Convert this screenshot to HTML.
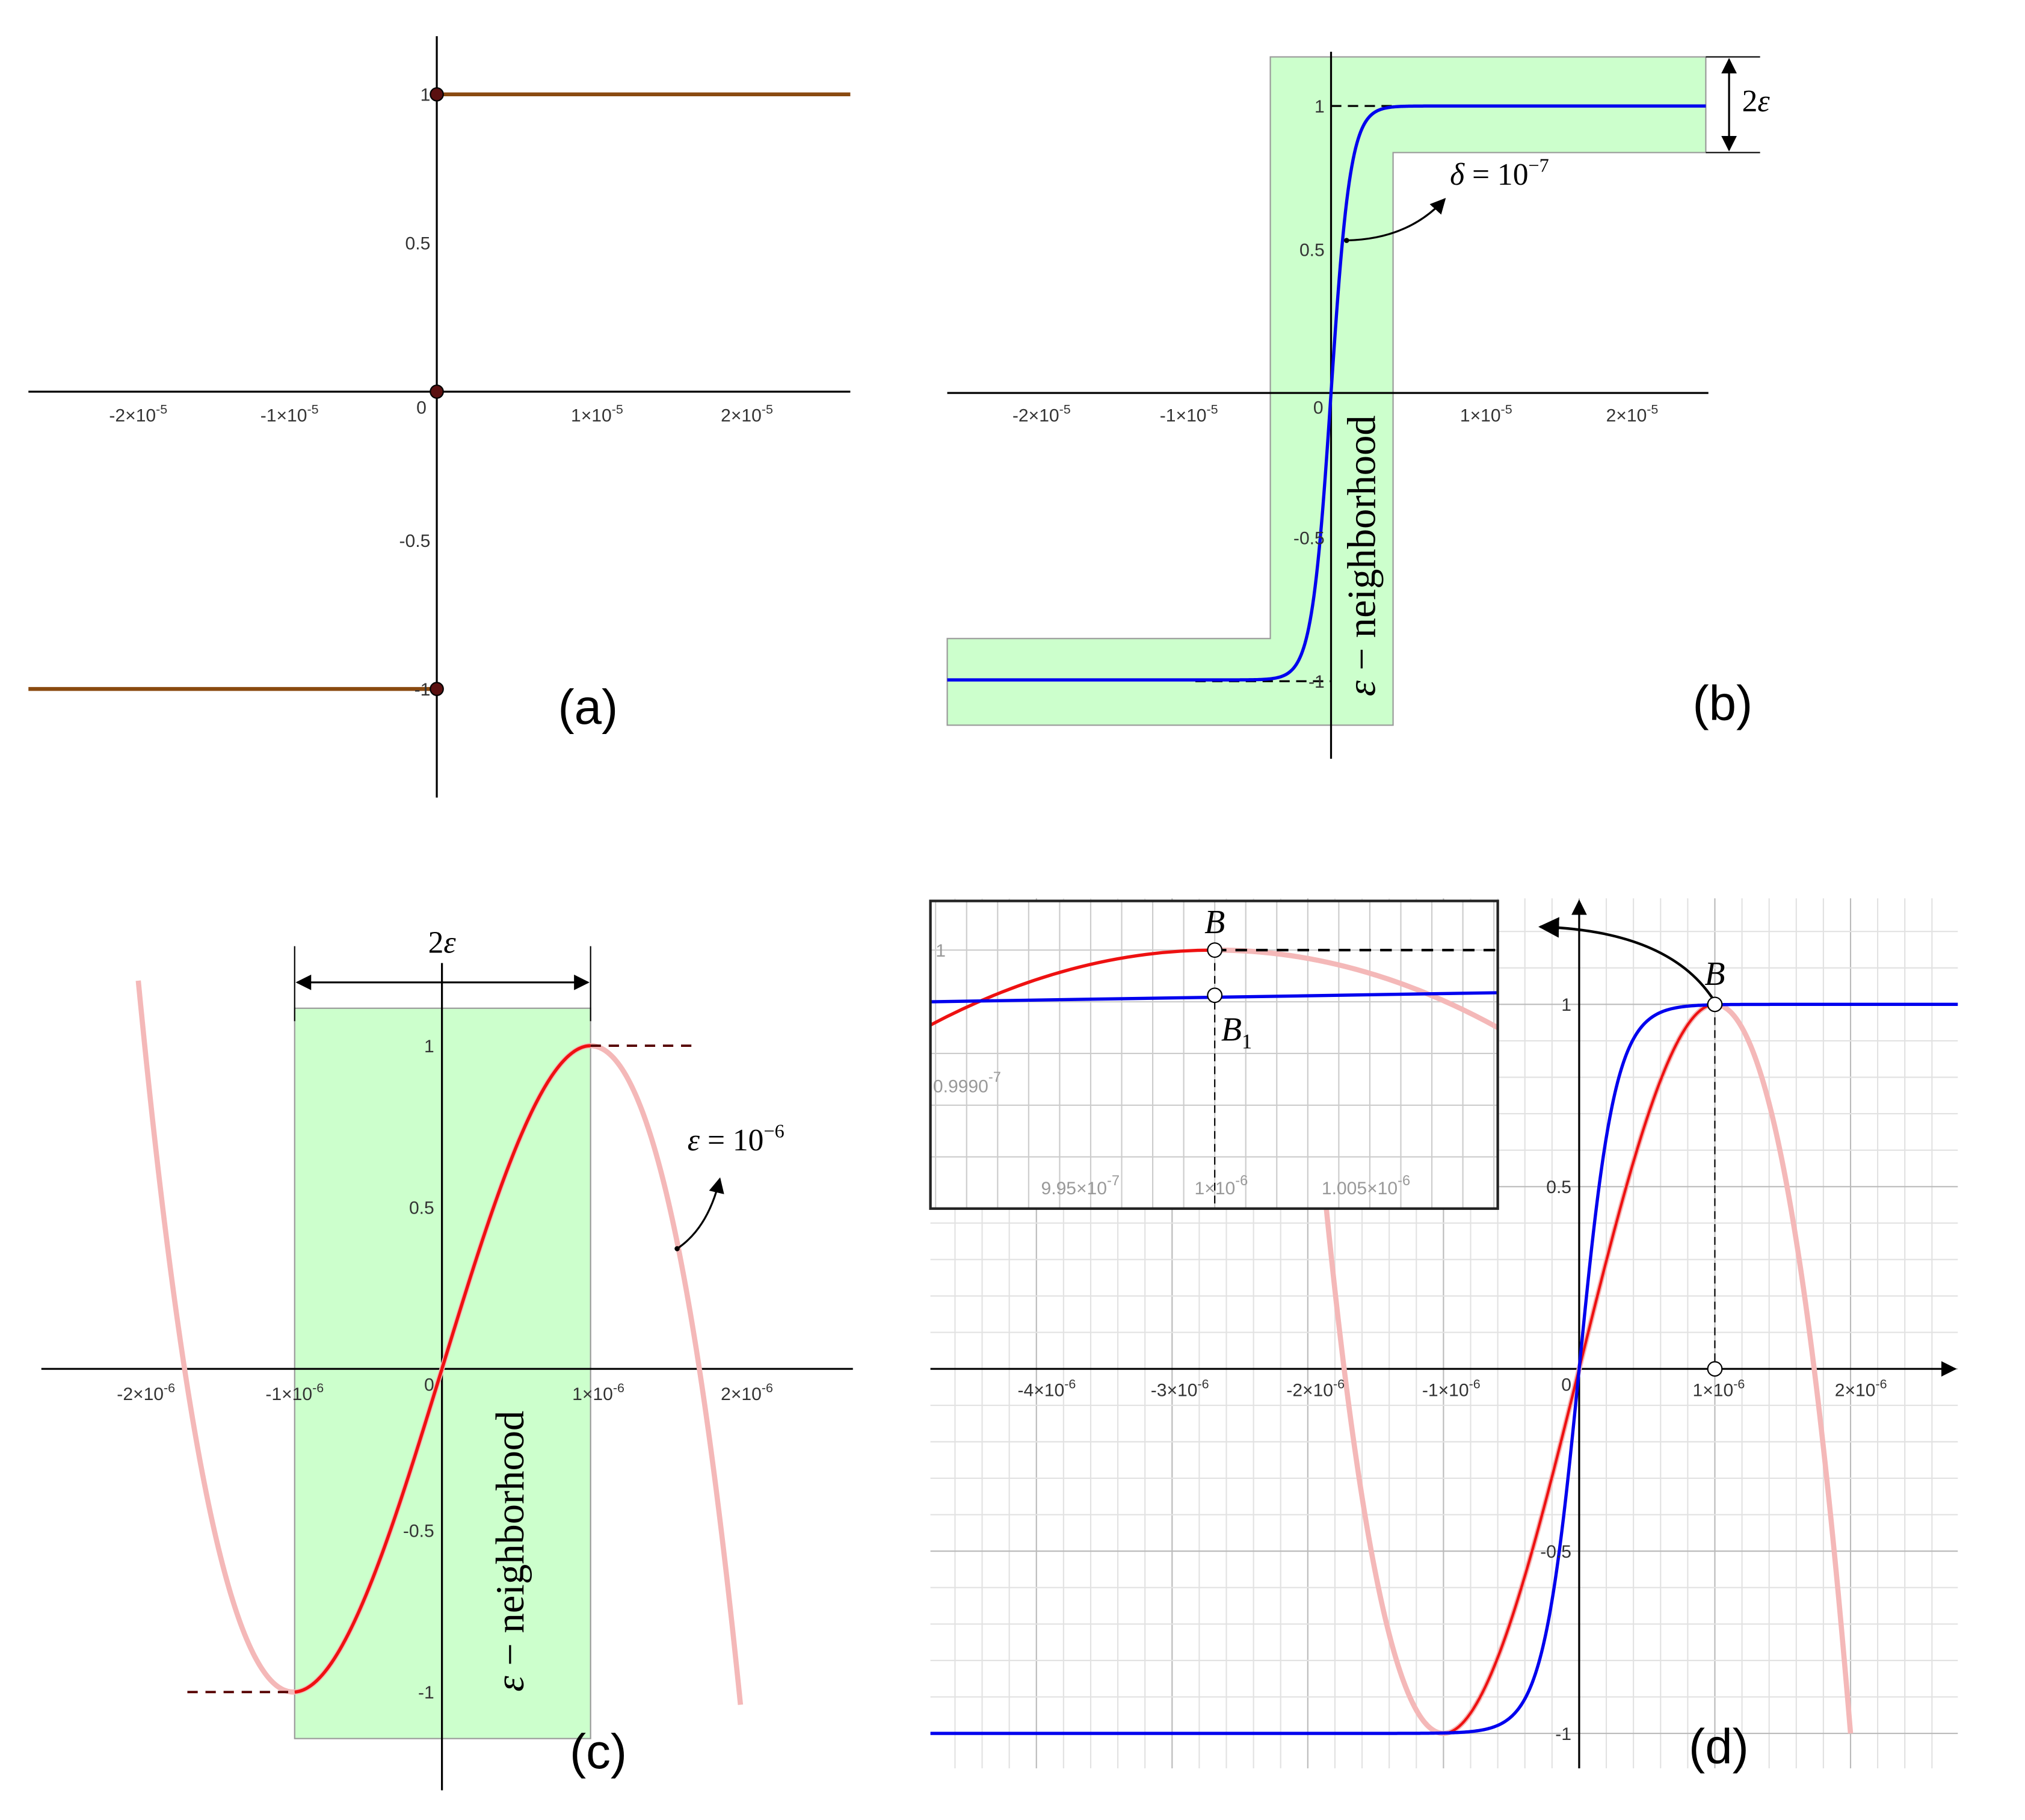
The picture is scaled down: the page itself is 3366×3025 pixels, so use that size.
<!DOCTYPE html>
<html><head><meta charset="utf-8"><style>
html,body{margin:0;padding:0;background:#fff;}
svg{display:block;}
text{font-family:"Liberation Sans",sans-serif;}
.t{font-size:14px;fill:#333;}
.g{font-size:14px;fill:#999;}
text.serif,.serif{font-family:"Liberation Serif",serif;}
.s{font-family:"Liberation Serif",serif;font-style:italic;}
</style></head><body>
<svg id="s" width="3366" height="3025" viewBox="0 0 1567 1408" preserveAspectRatio="none" xmlns="http://www.w3.org/2000/svg">
<defs>
<marker id="ah" viewBox="0 0 10 10" refX="9" refY="5" markerWidth="8" markerHeight="8" orient="auto-start-reverse"><path d="M0,0 L10,5 L0,10 z" fill="#000"/></marker>
</defs>
<rect width="1567" height="1408" fill="#fff"/>

<!-- Panel A -->
<g>
<line x1="338" y1="28" x2="338" y2="617" stroke="#000" stroke-width="1.5"/>
<line x1="22" y1="303" x2="658" y2="303" stroke="#000" stroke-width="1.5"/>
<line x1="338" y1="73" x2="658" y2="73" stroke="#8a4a10" stroke-width="3"/>
<line x1="22" y1="533" x2="338" y2="533" stroke="#8a4a10" stroke-width="3"/>
<circle cx="338" cy="73" r="5" fill="#5a1010" stroke="#000"/>
<circle cx="338" cy="303" r="5" fill="#5a1010" stroke="#000"/>
<circle cx="338" cy="533" r="5" fill="#5a1010" stroke="#000"/>
<text class="t" x="333" y="78" text-anchor="end">1</text>
<text class="t" x="333" y="193" text-anchor="end">0.5</text>
<text class="t" x="333" y="423" text-anchor="end">-0.5</text>
<text class="t" x="333" y="538" text-anchor="end">-1</text>
<text class="t" x="330" y="320" text-anchor="end">0</text>
<text class="t" x="107" y="326" text-anchor="middle">-2×10<tspan dy="-6" font-size="10">-5</tspan></text>
<text class="t" x="224" y="326" text-anchor="middle">-1×10<tspan dy="-6" font-size="10">-5</tspan></text>
<text class="t" x="462" y="326" text-anchor="middle">1×10<tspan dy="-6" font-size="10">-5</tspan></text>
<text class="t" x="578" y="326" text-anchor="middle">2×10<tspan dy="-6" font-size="10">-5</tspan></text>
<text x="455" y="560" font-size="38" text-anchor="middle">(a)</text>
</g>

<!-- Panel B -->
<g>
<path d="M983,44 L1320,44 L1320,118 L1078,118 L1078,561 L733,561 L733,494 L983,494 Z" fill="#ccffcc" stroke="#999" stroke-width="1"/>
<line x1="1030" y1="40" x2="1030" y2="587" stroke="#000" stroke-width="1.5"/>
<line x1="733" y1="304" x2="1322" y2="304" stroke="#000" stroke-width="1.5"/>
<line x1="1030" y1="82" x2="1105" y2="82" stroke="#000" stroke-width="1.5" stroke-dasharray="8,5"/>
<line x1="925" y1="527" x2="1030" y2="527" stroke="#000" stroke-width="1.5" stroke-dasharray="8,5"/>
<path id="pb" fill="none" stroke="#0000ee" stroke-width="2.5"/>
<text class="t" x="1025" y="87" text-anchor="end">1</text>
<text class="t" x="1025" y="198" text-anchor="end">0.5</text>
<text class="t" x="1025" y="421" text-anchor="end">-0.5</text>
<text class="t" x="1025" y="532" text-anchor="end">-1</text>
<text class="t" x="1024" y="320" text-anchor="end">0</text>
<text class="t" x="806" y="326" text-anchor="middle">-2×10<tspan dy="-6" font-size="10">-5</tspan></text>
<text class="t" x="920" y="326" text-anchor="middle">-1×10<tspan dy="-6" font-size="10">-5</tspan></text>
<text class="t" x="1150" y="326" text-anchor="middle">1×10<tspan dy="-6" font-size="10">-5</tspan></text>
<text class="t" x="1263" y="326" text-anchor="middle">2×10<tspan dy="-6" font-size="10">-5</tspan></text>
<line x1="1320" y1="44" x2="1362" y2="44" stroke="#000"/>
<line x1="1320" y1="118" x2="1362" y2="118" stroke="#000"/>
<line x1="1338" y1="46" x2="1338" y2="116" stroke="#000" stroke-width="1.5" marker-start="url(#ah)" marker-end="url(#ah)"/>
<text class="serif" x="1348" y="86" font-size="24">2<tspan class="s">ε</tspan></text>
<text class="serif" x="1122" y="143" font-size="24"><tspan class="s">δ</tspan> = 10<tspan dy="-10" font-size="15">−7</tspan></text>
<path d="M1042,186 Q1090,185 1118,154" fill="none" stroke="#000" stroke-width="1.5" marker-end="url(#ah)"/>
<circle cx="1042" cy="186" r="2" fill="#000"/>
<text class="serif" transform="translate(1064,430) rotate(-90)" font-size="31" text-anchor="middle"><tspan class="s">ε</tspan> − neighborhood</text>
<text x="1333" y="557" font-size="38" text-anchor="middle">(b)</text>
</g>

<!-- Panel C -->
<g>
<rect x="228" y="780" width="229" height="565" fill="#ccffcc" stroke="#999"/>
<line x1="342" y1="745" x2="342" y2="1385" stroke="#000" stroke-width="1.5"/>
<line x1="32" y1="1059" x2="660" y2="1059" stroke="#000" stroke-width="1.5"/>
<path id="pcp" fill="none" stroke="#f4b8b8" stroke-width="4"/>
<path id="pcr" fill="none" stroke="#ee1111" stroke-width="2.5"/>
<line x1="457" y1="809" x2="540" y2="809" stroke="#500" stroke-width="1.8" stroke-dasharray="8,6"/>
<line x1="145" y1="1309" x2="228" y2="1309" stroke="#500" stroke-width="1.8" stroke-dasharray="8,6"/>
<line x1="228" y1="732" x2="228" y2="790" stroke="#000"/>
<line x1="457" y1="732" x2="457" y2="790" stroke="#000"/>
<line x1="230" y1="760" x2="455" y2="760" stroke="#000" stroke-width="1.5" marker-start="url(#ah)" marker-end="url(#ah)"/>
<text class="serif" x="342" y="737" font-size="24" text-anchor="middle">2<tspan class="s">ε</tspan></text>
<text class="t" x="336" y="814" text-anchor="end">1</text>
<text class="t" x="336" y="939" text-anchor="end">0.5</text>
<text class="t" x="336" y="1189" text-anchor="end">-0.5</text>
<text class="t" x="336" y="1314" text-anchor="end">-1</text>
<text class="t" x="336" y="1076" text-anchor="end">0</text>
<text class="t" x="113" y="1083" text-anchor="middle">-2×10<tspan dy="-6" font-size="10">-6</tspan></text>
<text class="t" x="228" y="1083" text-anchor="middle">-1×10<tspan dy="-6" font-size="10">-6</tspan></text>
<text class="t" x="463" y="1083" text-anchor="middle">1×10<tspan dy="-6" font-size="10">-6</tspan></text>
<text class="t" x="578" y="1083" text-anchor="middle">2×10<tspan dy="-6" font-size="10">-6</tspan></text>
<text class="serif" x="532" y="890" font-size="24"><tspan class="s">ε</tspan> = 10<tspan dy="-10" font-size="15">−6</tspan></text>
<path d="M524,966 Q548,950 557,912" fill="none" stroke="#000" stroke-width="1.5" marker-end="url(#ah)"/>
<circle cx="524" cy="966" r="2" fill="#000"/>
<text class="serif" transform="translate(405,1200) rotate(-90)" font-size="31" text-anchor="middle"><tspan class="s">ε</tspan> − neighborhood</text>
<text x="463" y="1368" font-size="38" text-anchor="middle">(c)</text>
</g>

<!-- Panel D -->
<g id="gd"></g>
<g>
<line x1="1222" y1="1368" x2="1222" y2="697" stroke="#000" stroke-width="1.5" marker-end="url(#ah)"/>
<line x1="720" y1="1059" x2="1513" y2="1059" stroke="#000" stroke-width="1.5" marker-end="url(#ah)"/>
<path id="pdp" fill="none" stroke="#f4b8b8" stroke-width="4"/>
<path id="pdr" fill="none" stroke="#ee1111" stroke-width="2"/>
<path id="pdb" fill="none" stroke="#0000ee" stroke-width="2.5"/>
<line x1="1327" y1="777" x2="1327" y2="1059" stroke="#000" stroke-dasharray="6,4"/>
<circle cx="1327" cy="777" r="5.5" fill="#fff" stroke="#000"/>
<circle cx="1327" cy="1059" r="5.5" fill="#fff" stroke="#000"/>
<text x="1327" y="762" font-size="26" class="s" text-anchor="middle">B</text>
<text class="t" x="1216" y="782" text-anchor="end">1</text>
<text class="t" x="1216" y="923" text-anchor="end">0.5</text>
<text class="t" x="1216" y="1205" text-anchor="end">-0.5</text>
<text class="t" x="1216" y="1346" text-anchor="end">-1</text>
<text class="t" x="1216" y="1076" text-anchor="end">0</text>
<text class="t" x="810" y="1080" text-anchor="middle">-4×10<tspan dy="-6" font-size="10">-6</tspan></text>
<text class="t" x="913" y="1080" text-anchor="middle">-3×10<tspan dy="-6" font-size="10">-6</tspan></text>
<text class="t" x="1018" y="1080" text-anchor="middle">-2×10<tspan dy="-6" font-size="10">-6</tspan></text>
<text class="t" x="1123" y="1080" text-anchor="middle">-1×10<tspan dy="-6" font-size="10">-6</tspan></text>
<text class="t" x="1330" y="1080" text-anchor="middle">1×10<tspan dy="-6" font-size="10">-6</tspan></text>
<text class="t" x="1440" y="1080" text-anchor="middle">2×10<tspan dy="-6" font-size="10">-6</tspan></text>
<path d="M1325,772 Q1290,720 1192,717" fill="none" stroke="#000" stroke-width="2" marker-end="url(#ah)"/>
<text x="1330" y="1364" font-size="38" text-anchor="middle">(d)</text>
</g>
<!-- inset -->
<g>
<rect x="720" y="697" width="439" height="238" fill="#fff"/>
<g id="gi"></g>
<path d="M720,793 Q830,735 940,735" fill="none" stroke="#ee1111" stroke-width="2.5"/>
<path d="M940,735 Q1050,735 1159,795" fill="none" stroke="#f4b8b8" stroke-width="4"/>
<line x1="720" y1="775" x2="1159" y2="768" stroke="#0000ee" stroke-width="2.5"/>
<line x1="940" y1="735" x2="940" y2="935" stroke="#000" stroke-dasharray="6,4"/>
<line x1="940" y1="735" x2="1159" y2="735" stroke="#000" stroke-width="2" stroke-dasharray="9,7"/>
<circle cx="940" cy="735" r="5.5" fill="#fff" stroke="#000"/>
<circle cx="940" cy="770" r="5.5" fill="#fff" stroke="#000"/>
<text x="940" y="722" font-size="26" class="s" text-anchor="middle">B</text>
<text x="945" y="805" font-size="26" class="s">B<tspan dy="6" font-size="16" font-style="normal">1</tspan></text>
<text class="g" x="724" y="740">1</text>
<text class="g" x="722" y="845">0.9990<tspan dy="-8" font-size="11">-7</tspan></text>
<text class="g" x="836" y="924" text-anchor="middle">9.95×10<tspan dy="-7" font-size="11">-7</tspan></text>
<text class="g" x="945" y="924" text-anchor="middle">1×10<tspan dy="-7" font-size="11">-6</tspan></text>
<text class="g" x="1057" y="924" text-anchor="middle">1.005×10<tspan dy="-7" font-size="11">-6</tspan></text>
<rect x="720" y="697" width="439" height="238" fill="none" stroke="#222" stroke-width="2"/>
</g>
</svg>
<script>
var NS="http://www.w3.org/2000/svg";
function mk(p,t,a){var e=document.createElementNS(NS,t);for(var k in a)e.setAttribute(k,a[k]);p.appendChild(e);return e;}
function path(f,x0,x1,n){var d="";for(var i=0;i<=n;i++){var x=x0+(x1-x0)*i/n;d+=(i?"L":"M")+x.toFixed(2)+","+f(x).toFixed(2);}return d;}
document.getElementById("pb").setAttribute("d",path(function(x){return 304-222*Math.tanh((x-1030)/15);},733,1320,600));
function fc(u){return (3*u-u*u*u)/2;}
document.getElementById("pcp").setAttribute("d",path(function(x){return 1059-250*fc((x-342)/115);},107,573,300));
document.getElementById("pcr").setAttribute("d",path(function(x){return 1059-250*fc((x-342)/115);},228,457,200));
var gd=document.getElementById("gd");
for(var i=-24;i<=14;i++){var x=1222+i*21;if(x<720||x>1515)continue;mk(gd,"line",{x1:x,y1:695,x2:x,y2:1368,stroke:i%5==0?"#bbb":"#e2e2e2","stroke-width":1});}
for(var j=-12;j<=13;j++){var y=1059-j*28.2;if(y<695||y>1368)continue;mk(gd,"line",{x1:720,y1:y,x2:1515,y2:y,stroke:j%5==0?"#bbb":"#e2e2e2","stroke-width":1});}
document.getElementById("pdp").setAttribute("d",path(function(x){return 1059-282*fc((x-1222)/105);},1012,1432,300));
document.getElementById("pdr").setAttribute("d",path(function(x){return 1059-282*fc((x-1222)/105);},1117,1327,200));
document.getElementById("pdb").setAttribute("d",path(function(x){return 1059-282*Math.tanh((x-1222)/28);},720,1515,800));
var gi=document.getElementById("gi");
for(var x=724;x<1159;x+=24)mk(gi,"line",{x1:x,y1:697,x2:x,y2:935,stroke:"#ccc","stroke-width":1});
[735,775,815,855,895].forEach(function(y){mk(gi,"line",{x1:720,y1:y,x2:1159,y2:y,stroke:"#ccc","stroke-width":1});});
</script>
</body></html>
